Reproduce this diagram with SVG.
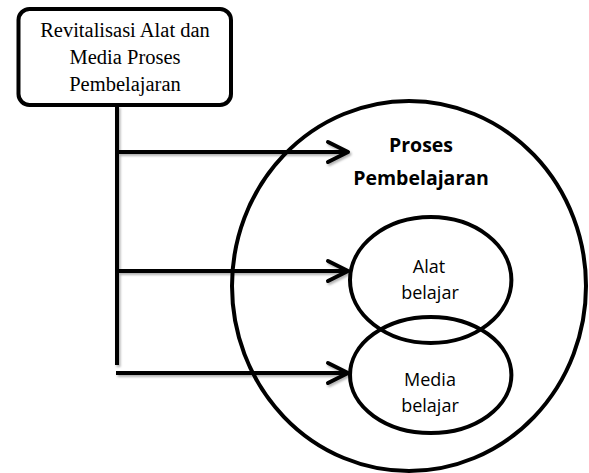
<svg xmlns="http://www.w3.org/2000/svg" width="589" height="473" viewBox="0 0 589 473">
<style>
.shape{fill:none;stroke:#000;stroke-width:4}
.box{fill:#fff;stroke:#000;stroke-width:4}
.conn{fill:none;stroke:#000;stroke-width:4;stroke-linejoin:round}
.head{fill:none;stroke:#000;stroke-width:4;stroke-linecap:round;stroke-linejoin:round}
.serif{font-family:"Liberation Serif","Times New Roman",serif;font-size:20.5px;fill:#000;text-anchor:middle}
.sans{font-family:"Open Sans","Liberation Sans",sans-serif;font-size:18px;fill:#000;text-anchor:middle}
.bold{font-family:"Open Sans","Liberation Sans",sans-serif;font-size:19.5px;font-weight:bold;fill:#000;text-anchor:middle}
</style>
<defs>
<filter id="sh" x="-10%" y="-50%" width="120%" height="200%">
<feDropShadow dx="1.5" dy="2" stdDeviation="1.2" flood-color="#000" flood-opacity="0.3"/>
</filter>
</defs>
<rect width="589" height="473" fill="#fff"/>
<g id="proses-pembelajaran">
<ellipse class="shape" cx="409" cy="286" rx="177" ry="185"/>
<text class="bold" x="421" y="152">Proses</text>
<text class="bold" x="421" y="185">Pembelajaran</text>
</g>
<g id="alat-belajar">
<ellipse class="shape" cx="430.7" cy="280" rx="80.7" ry="63"/>
<text class="sans" x="429" y="273">Alat</text>
<text class="sans" x="430" y="299">belajar</text>
</g>
<g id="media-belajar">
<ellipse class="shape" cx="430.7" cy="375" rx="80.7" ry="58"/>
<text class="sans" x="430" y="386">Media</text>
<text class="sans" x="430" y="412">belajar</text>
</g>
<g id="revitalisasi">
<rect class="box" x="18.5" y="9" width="212.5" height="96" rx="11"/>
<text class="serif" x="125" y="37">Revitalisasi Alat dan</text>
<text class="serif" x="125" y="64">Media Proses</text>
<text class="serif" x="125" y="91">Pembelajaran</text>
</g>
<g id="connectors" filter="url(#sh)">
<line class="conn" x1="117" y1="106" x2="117" y2="365"/>
<line class="conn" x1="117" y1="152" x2="346" y2="152"/>
<polyline class="head" points="328,142 348,152 328,162"/>
<line class="conn" x1="117" y1="271" x2="346" y2="271"/>
<polyline class="head" points="328,261 348,271 328,281"/>
<line class="conn" x1="116" y1="373" x2="346" y2="373"/>
<polyline class="head" points="328,363 348,373 328,383"/>
</g>
</svg>
